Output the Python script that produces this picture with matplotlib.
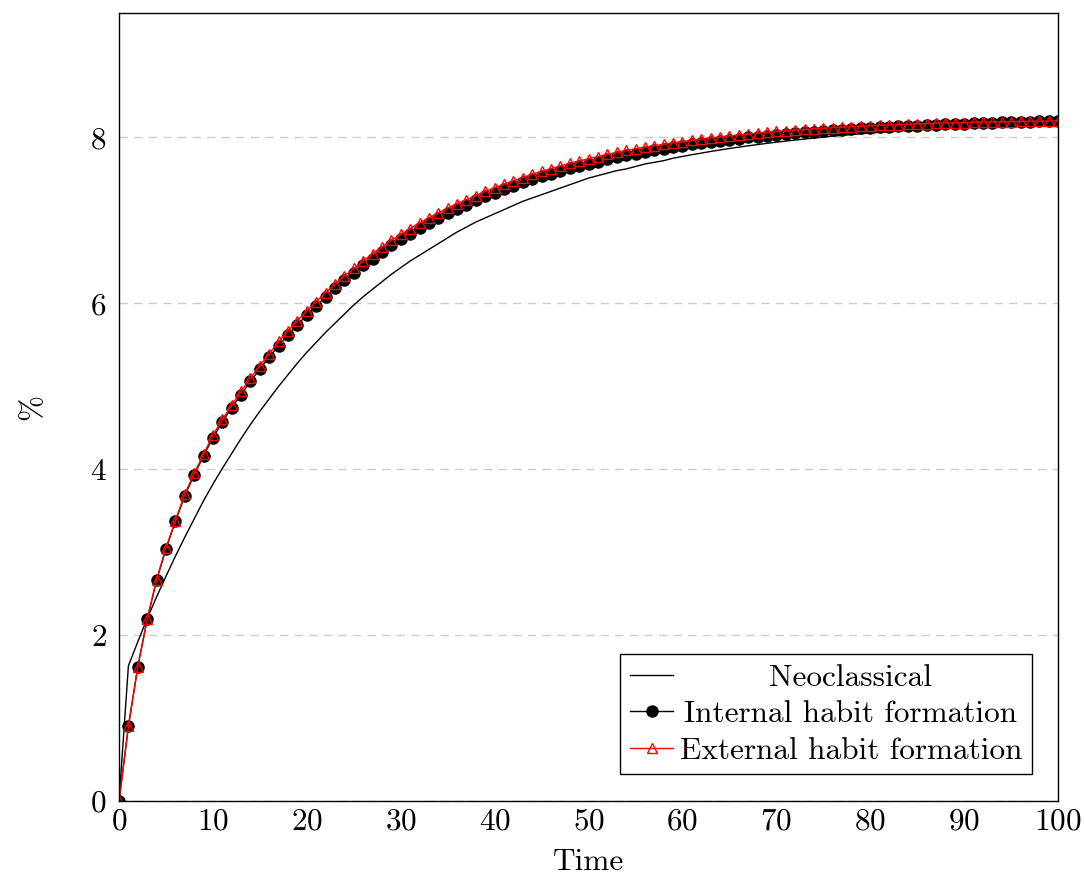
import numpy as np
import matplotlib
matplotlib.use("Agg")
import matplotlib.pyplot as plt

plt.rcParams['font.family'] = 'serif'
plt.rcParams['font.serif'] = ['cmr10', 'DejaVu Serif']
plt.rcParams['mathtext.fontset'] = 'cm'
plt.rcParams['axes.formatter.use_mathtext'] = True

time = list(range(0, 101))

neoclassical = [0, 1.63, 1.92, 2.20, 2.46, 2.71, 2.95, 3.18, 3.40, 3.62, 3.82,
                4.01, 4.19, 4.37, 4.54, 4.70, 4.85, 5.00, 5.14, 5.28, 5.41,
                5.53, 5.65, 5.76, 5.87, 5.98, 6.08, 6.17, 6.26, 6.35, 6.43,
                6.51, 6.58, 6.65, 6.72, 6.79, 6.86, 6.92, 6.98, 7.03, 7.08,
                7.13, 7.18, 7.23, 7.27, 7.31, 7.35, 7.39, 7.43, 7.47, 7.51,
                7.54, 7.57, 7.60, 7.62, 7.65, 7.68, 7.70, 7.72, 7.75,
                7.771, 7.792, 7.811, 7.831, 7.849, 7.867, 7.883, 7.899, 7.914,
                7.929, 7.943, 7.956, 7.969, 7.981, 7.993, 8.004, 8.015, 8.025,
                8.035, 8.044, 8.053, 8.062, 8.070, 8.078, 8.085, 8.093, 8.100,
                8.106, 8.113, 8.118, 8.124, 8.130, 8.134, 8.140, 8.145, 8.150,
                8.154, 8.158, 8.162, 8.166, 8.169]

internal = [0, 0.90, 1.62, 2.19, 2.66, 3.04, 3.37, 3.68, 3.93, 4.16, 4.38,
            4.57, 4.74, 4.90, 5.06, 5.21, 5.35, 5.49, 5.62, 5.74, 5.86,
            5.97, 6.08, 6.18, 6.28, 6.37, 6.46, 6.54, 6.62, 6.70, 6.77,
            6.84, 6.91, 6.97, 7.03, 7.09, 7.14, 7.19, 7.24, 7.29,
            7.335, 7.377, 7.418, 7.457, 7.495, 7.530, 7.564, 7.596, 7.627,
            7.656, 7.684, 7.710, 7.735, 7.760, 7.783, 7.804, 7.825, 7.845,
            7.864, 7.882, 7.900, 7.916, 7.932, 7.947, 7.961, 7.974, 7.987,
            8.000, 8.011, 8.022, 8.033, 8.043, 8.053, 8.062, 8.071, 8.079,
            8.087, 8.095, 8.102, 8.109, 8.116, 8.122, 8.128, 8.134, 8.139,
            8.144, 8.149, 8.154, 8.159, 8.163, 8.167, 8.171, 8.175, 8.178,
            8.181, 8.185, 8.188, 8.191, 8.193, 8.196, 8.199]

external = [0, 0.90, 1.62, 2.19, 2.67, 3.05, 3.38, 3.70, 3.95, 4.18, 4.41,
            4.60, 4.77, 4.94, 5.10, 5.25, 5.39, 5.54, 5.67, 5.79, 5.91,
            6.02, 6.13, 6.23, 6.33, 6.42, 6.51, 6.60, 6.68, 6.76, 6.83,
            6.90, 6.97, 7.03, 7.09, 7.15, 7.20, 7.25, 7.30, 7.35,
            7.395, 7.437, 7.478, 7.517, 7.555, 7.590, 7.624, 7.656, 7.687,
            7.716, 7.744, 7.770, 7.795, 7.820, 7.843, 7.864, 7.883, 7.901,
            7.918, 7.934, 7.950, 7.965, 7.980, 7.994, 8.007, 8.019, 8.030,
            8.042, 8.052, 8.062, 8.072, 8.080, 8.089, 8.097, 8.104, 8.111,
            8.118, 8.125, 8.130, 8.136, 8.142, 8.146, 8.151, 8.156, 8.159,
            8.163, 8.167, 8.170, 8.174, 8.177, 8.179, 8.182, 8.185, 8.186,
            8.188, 8.191, 8.193, 8.195, 8.196, 8.198, 8.200]

xticks = [0, 10, 20, 30, 40, 50, 60, 70, 80, 90, 100]
yticks = [0, 2, 4, 6, 8]

FS = 22.5

fig = plt.figure(figsize=(10.84, 8.75), dpi=100)
ax = fig.add_axes([0.1098, 0.0846, 0.8663, 0.9005])

ax.plot(time, neoclassical, color='black', lw=1.0, label='Neoclassical')
ax.plot(time, internal, color='black', lw=1.0, marker='o', markersize=8,
        label='Internal habit formation')
ax.plot(time, external, color='red', lw=1.0, marker='^', markersize=6.5,
        markerfacecolor='none', markeredgecolor='red', markeredgewidth=1.0,
        label='External habit formation')

ax.set_xlim(0, 100)
ax.set_ylim(0, 9.5)
ax.set_xticks(xticks)
ax.set_yticks(yticks)
ax.tick_params(length=0, labelsize=FS)
ax.tick_params(axis='x', pad=5)
ax.tick_params(axis='y', pad=9)
ax.yaxis.grid(True, color='#cccccc', linestyle=(0, (6, 4.5)), lw=1.0)
ax.set_axisbelow(True)
for s in ax.spines.values():
    s.set_linewidth(1.0)
    s.set_color('black')

ax.set_xlabel('Time', fontsize=FS, labelpad=9)
ax.set_ylabel('%', fontsize=FS, labelpad=31)

leg = ax.legend(loc='lower right', fontsize=FS, frameon=True, fancybox=False,
                framealpha=1, edgecolor='black', handlelength=1.4,
                handletextpad=0.2, labelspacing=0.28, borderpad=0.3,
                borderaxespad=0.85)
leg.get_frame().set_linewidth(1.0)
# center the label column like the original
fig.canvas.draw()
texts = leg.get_texts()
widths = [t.get_window_extent().width for t in texts]
wmax = max(widths)
for t, w in zip(texts, widths):
    t.set_x((wmax - w) / 2.0)

fig.savefig('out.png', dpi=100)
